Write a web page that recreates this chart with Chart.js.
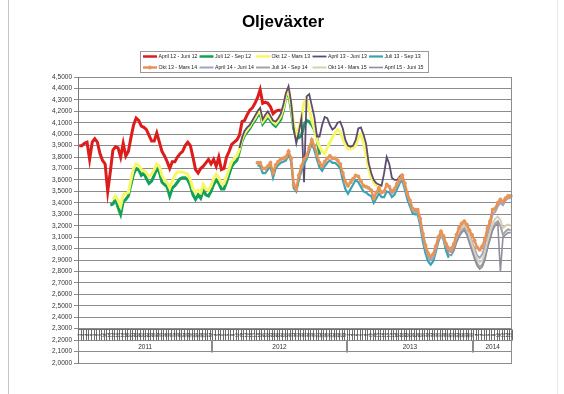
<!DOCTYPE html>
<html>
<head>
<meta charset="utf-8">
<script src="https://cdn.jsdelivr.net/npm/chart.js@4/dist/chart.umd.min.js"></script>
<style>
html,body{margin:0;padding:0;background:#fff;}
#wrap{position:relative;width:564px;height:394px;overflow:hidden;}
#wrap:before{content:'';position:absolute;left:8px;top:0;bottom:0;border-left:1px solid #c4c4c4;}
#wrap:after{content:'';position:absolute;left:557px;top:0;bottom:0;border-left:1px solid #e6e6e6;}
canvas{position:absolute;left:0;top:0;}
</style>
</head>
<body>
<div id="wrap"><canvas id="c" width="564" height="394"></canvas></div>
<script>
// kategorier: veckor per år
const years = ['2011', '2012', '2013', '2014'];
const yearWeeks = [52, 52, 49, 15];

// serier: startindex + värden (kr/kg)
const aprJun12Start = 0;
const aprJun12 = [3.90,3.90,3.92,3.93,3.78,3.93,3.96,3.93,3.83,3.77,
	3.74,3.50,3.67,3.86,3.89,3.88,3.80,3.92,3.81,3.85,
	3.97,4.08,4.14,4.12,4.07,4.06,4.04,3.99,3.94,3.94,
	4.01,3.93,3.85,3.81,3.76,3.70,3.76,3.76,3.80,3.83,
	3.85,3.90,3.93,3.90,3.80,3.69,3.66,3.70,3.72,3.75,
	3.78,3.74,3.78,3.72,3.80,3.69,3.70,3.80,3.85,3.91,
	3.93,3.95,3.99,4.11,4.12,4.17,4.21,4.23,4.27,4.32,
	4.39,4.27,4.28,4.27,4.24,4.18,4.20,4.21,4.21];

const julSep12Start = 12;
const julSep12 = [3.38,3.39,3.43,3.36,3.30,3.41,3.43,3.46,3.56,3.65,
	3.70,3.69,3.64,3.66,3.61,3.57,3.59,3.64,3.70,3.67,
	3.58,3.56,3.54,3.46,3.53,3.55,3.58,3.61,3.62,3.62,
	3.60,3.55,3.47,3.43,3.47,3.44,3.51,3.47,3.46,3.50,
	3.56,3.60,3.57,3.52,3.52,3.58,3.65,3.72,3.75,3.77,
	3.85,3.94,3.99,4.02,4.05,4.09,4.12,4.16,4.18,4.09,
	4.12,4.15,4.12,4.09,4.07,4.10,4.13,4.21,4.33,4.36,
	4.22,4.05,3.97,3.97,3.99,4.08,4.12,4.11,4.08,4.04,
	3.97,3.82];

const oktMar13Start = 13;
const oktMar13 = [3.43,3.46,3.42,3.37,3.47,3.48,3.49,3.60,3.70,3.74,
	3.73,3.69,3.68,3.66,3.63,3.65,3.69,3.74,3.72,3.64,
	3.60,3.58,3.53,3.59,3.64,3.67,3.67,3.67,3.66,3.65,
	3.60,3.52,3.49,3.51,3.49,3.56,3.52,3.51,3.55,3.61,
	3.65,3.62,3.57,3.57,3.63,3.70,3.76,3.79,3.81,3.87,
	3.96,4.01,4.04,4.07,4.11,4.14,4.18,4.21,4.11,4.14,
	4.17,4.14,4.11,4.09,4.12,4.16,4.23,4.34,4.38,4.25,
	4.08,4.00,4.05,4.15,4.28,4.30,4.22,4.12,4.05,3.95,
	3.89,3.85,3.83,3.88,3.93,3.97,4.01,4.04,4.02,3.96,
	3.91,3.87,3.87,3.88,3.90,3.97,4.00,3.93,3.82,3.70,
	3.62,3.58,3.55,3.54,3.53];

const aprJun13Start = 62;
const aprJun13 = [3.88,3.97,4.03,4.06,4.08,4.12,4.16,4.20,4.23,4.13,
	4.17,4.20,4.16,4.12,4.11,4.14,4.18,4.26,4.36,4.42,
	4.28,4.05,3.92,4.02,4.14,3.58,4.33,4.35,4.25,4.15,
	3.98,3.98,4.08,4.15,4.14,4.08,4.04,4.06,4.10,4.11,
	4.05,3.95,3.90,3.89,3.90,3.95,4.05,4.06,4.00,3.92,
	3.75,3.66,3.60,3.57,3.56,3.55,3.66,3.80,3.74,3.62,
	3.60,3.60,3.63,3.65];

const julSep13Start = 69;
const julSep13 = [3.73,3.72,3.66,3.66,3.69,3.72,3.62,3.70,3.73,3.75,
	3.76,3.77,3.82,3.76,3.53,3.50,3.60,3.68,3.74,3.78,
	3.85,3.92,3.86,3.78,3.71,3.68,3.72,3.75,3.77,3.75,
	3.75,3.73,3.70,3.60,3.52,3.48,3.52,3.56,3.60,3.58,
	3.54,3.50,3.49,3.47,3.46,3.40,3.44,3.48,3.45,3.45,
	3.50,3.49,3.45,3.47,3.52,3.57,3.60,3.52,3.43,3.37,
	3.31,3.30,3.30,3.20,3.06,2.96,2.89,2.86,2.89,2.97,
	3.06,3.12,3.08,2.98,2.92];

const oktMar14Start = 69;
const oktMar14 = [3.75,3.75,3.70,3.70,3.72,3.75,3.66,3.73,3.76,3.78,
	3.79,3.80,3.85,3.79,3.56,3.52,3.64,3.72,3.78,3.81,
	3.88,3.95,3.90,3.82,3.75,3.72,3.76,3.79,3.81,3.79,
	3.79,3.77,3.74,3.66,3.58,3.55,3.58,3.61,3.64,3.63,
	3.59,3.55,3.54,3.53,3.51,3.44,3.49,3.53,3.49,3.50,
	3.56,3.54,3.50,3.52,3.57,3.61,3.64,3.57,3.48,3.42,
	3.35,3.34,3.34,3.26,3.13,3.03,2.96,2.93,2.95,3.02,
	3.10,3.15,3.11,3.04,3.00,3.00,3.04,3.12,3.18,3.22,
	3.24,3.21,3.16,3.12,3.07,3.01,2.99,3.02,3.08,3.18,
	3.24,3.34,3.35,3.40,3.43,3.41,3.44,3.46,3.46];

const aprJun14Start = 120;
const aprJun14 = [3.52,3.48,3.50,3.55,3.59,3.62,3.55,3.46,3.40,3.33,
	3.32,3.32,3.23,3.10,3.00,2.93,2.90,2.92,2.99,3.08,
	3.13,3.09,3.02,2.98,2.97,3.01,3.09,3.15,3.19,3.21,
	3.18,3.12,3.06,3.00,2.94,2.92,2.95,3.02,3.12,3.20,
	3.30,3.32,3.37,3.40,3.38,3.42,3.44,3.44];

const julSep14Start = 138;
const julSep14 = [3.00,3.07,3.12,3.08,3.02,2.98,2.97,3.00,3.07,3.12,
	3.16,3.18,3.14,3.07,3.00,2.93,2.87,2.84,2.86,2.92,
	3.02,3.10,3.18,3.22,3.24,3.20,3.12,3.15,3.17,3.16];

const oktMar15Start = 140;
const oktMar15 = [3.13,3.10,3.05,3.01,3.00,3.03,3.10,3.15,3.19,3.21,
	3.18,3.11,3.04,2.97,2.91,2.88,2.90,2.96,3.06,3.14,
	3.22,3.26,3.28,3.25,3.18,3.20,3.21,3.20];

const aprJun15Start = 142;
const aprJun15 = [3.00,2.95,2.94,2.98,3.05,3.10,3.14,3.16,3.12,3.05,
	2.98,2.91,2.85,2.82,2.84,2.90,3.00,3.08,3.16,3.20,
	3.22,2.80,3.10,3.12,3.14,3.14];

// y-axel
const yMin = 2.0, yMax = 4.5, yStep = 0.1;

// ---- bygg kategorier
const categories = [];
const weekLabels = [];
years.forEach((yr, k) => {
	for (let w = 1; w <= yearWeeks[k]; w++){
		categories.push(yr + '-' + w);
		weekLabels.push(String(w));
	}
});

function pad(start, vals){
	const out = new Array(categories.length).fill(null);
	vals.forEach((v, k) => { out[start + k] = v; });
	return out;
}

const FONT = '"Liberation Sans", Arial, sans-serif';

function series(label, start, vals, color, width, extra){
	return Object.assign({
		label: label,
		data: pad(start, vals),
		borderColor: color,
		backgroundColor: color,
		borderWidth: width,
		pointRadius: 0,
		fill: false,
		tension: 0
	}, extra || {});
}

const datasets = [
	series('April 12 - Juni 12', aprJun12Start, aprJun12, '#dd1c1c', 3, {order: 0}),
	series('Juli 12 - Sep 12', julSep12Start, julSep12, '#13a05a', 3, {order: -1}),
	series('Okt 12 - Mars 13', oktMar13Start, oktMar13, '#f7f766', 3, {order: -2}),
	series('April 13 - Juni 13', aprJun13Start, aprJun13, '#5e4b6e', 1.8, {order: -3}),
	series('Juli 13 - Sep 13', julSep13Start, julSep13, '#3aa3b6', 2.2, {order: -4}),
	series('Okt 13 - Mars 14', oktMar14Start, oktMar14, '#e88f52', 2.4, {order: -100, pointRadius: 2, pointBackgroundColor: '#e8955a', pointBorderWidth: 0}),
	series('April 14 - Juni 14', aprJun14Start, aprJun14, '#9aa6c8', 2, {order: -6}),
	series('Juli 14 - Sep 14', julSep14Start, julSep14, '#a3a3a3', 2, {order: -7}),
	series('Okt 14 - Mars 15', oktMar15Start, oktMar15, '#d9ceb4', 2, {order: -8}),
	series('April 15 - Juni 15', aprJun15Start, aprJun15, '#8f8f9f', 1.6, {order: -9})
];

// Excel-liknande legend, kategoriband och ram
const excelBits = {
	id: 'excelBits',
	afterDraw(chart){
		const ctx = chart.ctx;
		const a = chart.chartArea;
		const x = chart.scales.x, y = chart.scales.y;
		ctx.save();

		// ram höger
		ctx.strokeStyle = '#8c8c8c';
		ctx.lineWidth = 1;
		ctx.beginPath();
		ctx.moveTo(Math.round(a.right) - 0.5, a.top);
		ctx.lineTo(Math.round(a.right) - 0.5, a.bottom);
		ctx.stroke();

		// kategoriband (axeln korsar vid 2,3)
		const yTop = Math.round(y.getPixelForValue(2.3)) + 0.5;
		const yMid = Math.round(y.getPixelForValue(2.2)) + 0.5;
		const yBot = Math.round(y.getPixelForValue(2.1)) + 0.5;
		const cw = x.getPixelForValue(1) - x.getPixelForValue(0);
		ctx.strokeStyle = '#6e6e6e';
		ctx.beginPath();
		ctx.moveTo(a.left, yTop); ctx.lineTo(a.right, yTop);
		for (let i = 0; i <= categories.length; i++){
			const px = Math.round(x.getPixelForValue(i) - cw / 2) + 0.5;
			ctx.moveTo(px, yTop); ctx.lineTo(px, yMid);
		}
		ctx.stroke();

		ctx.fillStyle = '#333';
		ctx.font = '4px ' + FONT;
		ctx.textAlign = 'center';
		ctx.textBaseline = 'middle';
		weekLabels.forEach((lbl, i) => {
			ctx.save();
			ctx.translate(x.getPixelForValue(i), (yTop + yMid) / 2);
			ctx.rotate(-Math.PI / 2);
			ctx.fillText(lbl, 0, 0);
			ctx.restore();
		});

		// årsrad
		let k0 = 0;
		ctx.strokeStyle = '#8c8c8c';
		ctx.font = '6.5px ' + FONT;
		ctx.fillStyle = '#333';
		years.forEach((yr, k) => {
			const k1 = k0 + yearWeeks[k];
			const xl = x.getPixelForValue(k0) - cw / 2;
			const xr = x.getPixelForValue(k1 - 1) + cw / 2;
			ctx.beginPath();
			ctx.moveTo(Math.round(xl) + 0.5, yMid); ctx.lineTo(Math.round(xl) + 0.5, yBot);
			ctx.moveTo(Math.round(xr) - 0.5, yMid); ctx.lineTo(Math.round(xr) - 0.5, yBot);
			ctx.stroke();
			ctx.fillText(yr, (xl + xr) / 2, (yMid + yBot) / 2 + 0.5);
			k0 = k1;
		});

		// legend
		const cols = [143, 199.5, 256, 312.5, 369];
		const rows = [56.5, 67.5];
		ctx.font = '5.2px ' + FONT;
		ctx.textAlign = 'left';
		chart.data.datasets.forEach((ds, i) => {
			const lx = cols[i % 5], ly = rows[Math.floor(i / 5)];
			ctx.strokeStyle = ds.borderColor;
			ctx.lineWidth = Math.min(ds.borderWidth, 2.5);
			ctx.beginPath();
			ctx.moveTo(lx, ly); ctx.lineTo(lx + 14, ly);
			ctx.stroke();
			if (ds.pointRadius){
				ctx.fillStyle = ds.pointBackgroundColor;
				ctx.beginPath();
				ctx.arc(lx + 7, ly, ds.pointRadius, 0, Math.PI * 2);
				ctx.fill();
			}
			ctx.fillStyle = '#222';
			ctx.fillText(ds.label, lx + 15.5, ly + 0.5);
		});
		ctx.strokeStyle = '#9a9a9a';
		ctx.lineWidth = 1;
		ctx.strokeRect(140.5, 51.5, 288, 21);

		ctx.restore();
	}
};

new Chart(document.getElementById('c'), {
	type: 'line',
	data: { labels: categories, datasets: datasets },
	options: {
		responsive: false,
		animation: false,
		devicePixelRatio: 1,
		spanGaps: false,
		// tom högeraxel tar upp marginalen så att titeln centreras på sidan
		layout: { padding: { left: 2, right: 0, top: 0, bottom: 31 } },
		plugins: {
			legend: { display: false },
			tooltip: { enabled: false },
			title: {
				display: true,
				text: 'Oljeväxter',
				color: '#000',
				font: { family: FONT, size: 17, weight: 'bold' },
				padding: { top: 12, bottom: 44.6 }
			}
		},
		scales: {
			x: { display: false, offset: true },
			y: {
				min: yMin,
				max: yMax,
				afterFit: function(s){ s.width = 76; },
				ticks: {
					stepSize: yStep,
					autoSkip: false,
					padding: 2,
					color: '#333',
					font: { family: FONT, size: 6.5 },
					callback: v => v.toFixed(4).replace('.', ',')
				},
				grid: { color: '#8c8c8c', tickLength: 4 },
				border: { color: '#7a7a7a' }
			},
			yRight: {
				position: 'right',
				min: yMin,
				max: yMax,
				afterFit: function(s){ s.width = 52; },
				ticks: { display: false },
				grid: { display: false },
				border: { display: false }
			}
		}
	},
	plugins: [excelBits]
});
</script>
</body>
</html>
